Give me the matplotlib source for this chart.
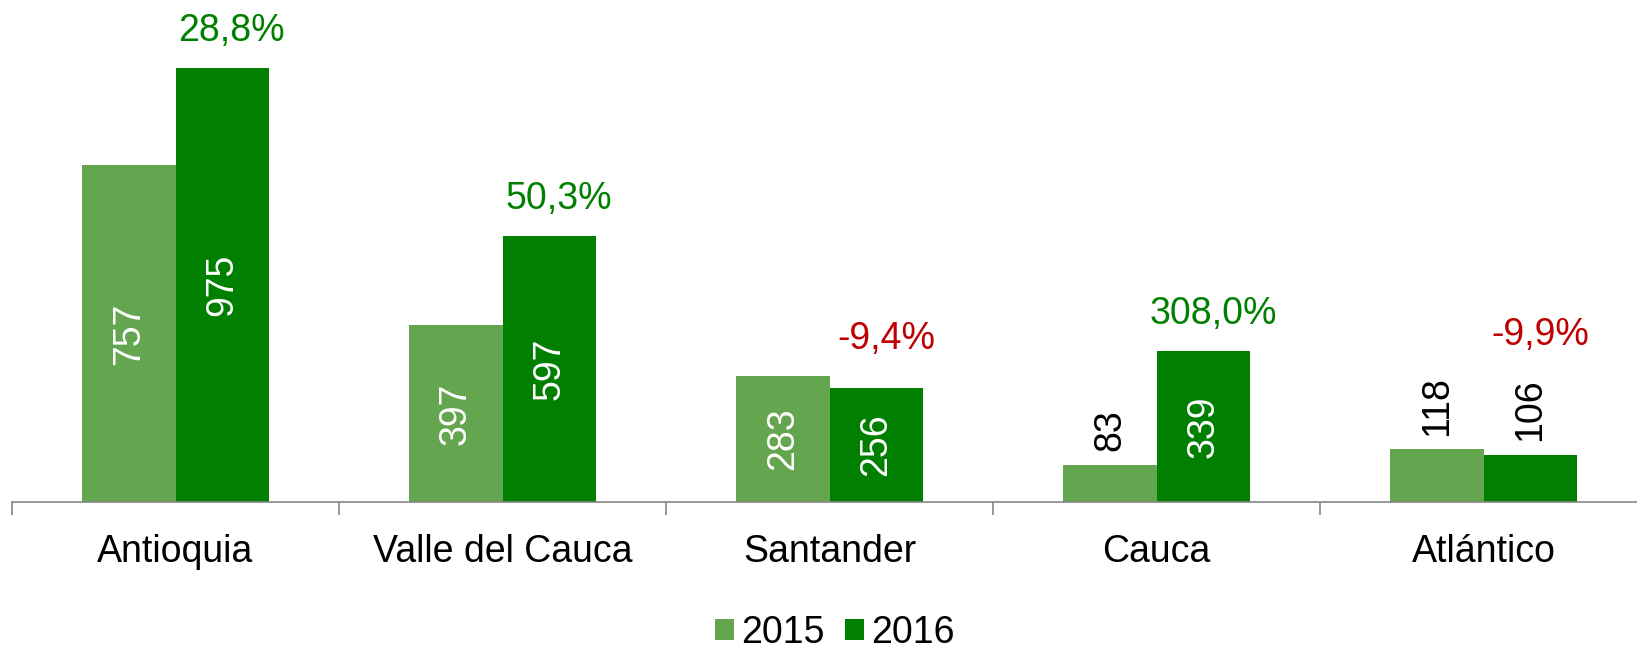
import matplotlib.pyplot as plt
import numpy as np

plt.rcParams['font.family'] = ['Liberation Sans', 'DejaVu Sans']

# data
departamentos = ['Antioquia', 'Valle del Cauca', 'Santander', 'Cauca', 'Atlántico']
v2015 = [757, 397, 283, 83, 118]
v2016 = [975, 597, 256, 339, 106]
variacion = ['28,8%', '50,3%', '-9,4%', '308,0%', '-9,9%']

c2015 = '#64A550'
c2016 = '#007F00'
verde = '#008000'
rojo = '#C00000'
fs = 27

fig = plt.figure(figsize=(16.37, 6.54), dpi=100)
ax = fig.add_axes([12 / 1637, 152 / 654, 1635 / 1637, 502 / 654])

x = np.arange(len(departamentos))
w = 0.285
b1 = ax.bar(x - w / 2, v2015, w, color=c2015, label='2015')
b2 = ax.bar(x + w / 2, v2016, w, color=c2016, label='2016')

ax.set_xlim(-0.5, len(departamentos) - 0.5)
ax.set_ylim(0, 1128)

# value labels: inside (white) when the bar is tall enough, else just above it (black)
def etiquetas(bars, vals):
    afuera = []
    for b, v in zip(bars, vals):
        cx = b.get_x() + b.get_width() / 2
        if v > 150:
            ax.text(cx, v / 2, str(v), rotation=90, ha='center', va='center',
                    color='white', fontsize=fs)
            afuera.append(False)
        else:
            ax.annotate(str(v), (cx, v), xytext=(0, 10), textcoords='offset points',
                        rotation=90, ha='center', va='bottom', color='black', fontsize=fs)
            afuera.append(True)
    return afuera

out1 = etiquetas(b1, v2015)
out2 = etiquetas(b2, v2016)

# percentage change above each group
for i, txt in enumerate(variacion):
    alturas = [v2015[i] + (55 / 0.32 if out1[i] else 0),
               v2016[i] + (55 / 0.32 if out2[i] else 0)]
    top = max(alturas)
    col = rojo if txt.startswith('-') else verde
    ax.annotate(txt, (x[i] + w / 2 + 0.03, top), xytext=(0, 27), textcoords='offset points',
                ha='center', va='center', color=col, fontsize=fs)

for s in ['top', 'right', 'left']:
    ax.spines[s].set_visible(False)
ax.spines['bottom'].set_color('#868686')
ax.spines['bottom'].set_linewidth(1.2)
ax.set_yticks([])

ax.set_xticks(np.arange(-0.5, len(departamentos), 1.0))
ax.set_xticklabels([])
ax.set_xticks(x, minor=True)
ax.set_xticklabels(departamentos, minor=True, fontsize=fs)
ax.tick_params(axis='x', which='major', length=9, width=1.2, color='#868686')
ax.tick_params(axis='x', which='minor', length=0, pad=23)

fig.legend(handles=[b1, b2], labels=['2015', '2016'], loc='center',
           bbox_to_anchor=(0.51, 0.032), ncol=2, frameon=False, fontsize=fs,
           handlelength=0.5, handleheight=0.5, handletextpad=0.2,
           columnspacing=0.55)

fig.savefig('out.png', dpi=100)
